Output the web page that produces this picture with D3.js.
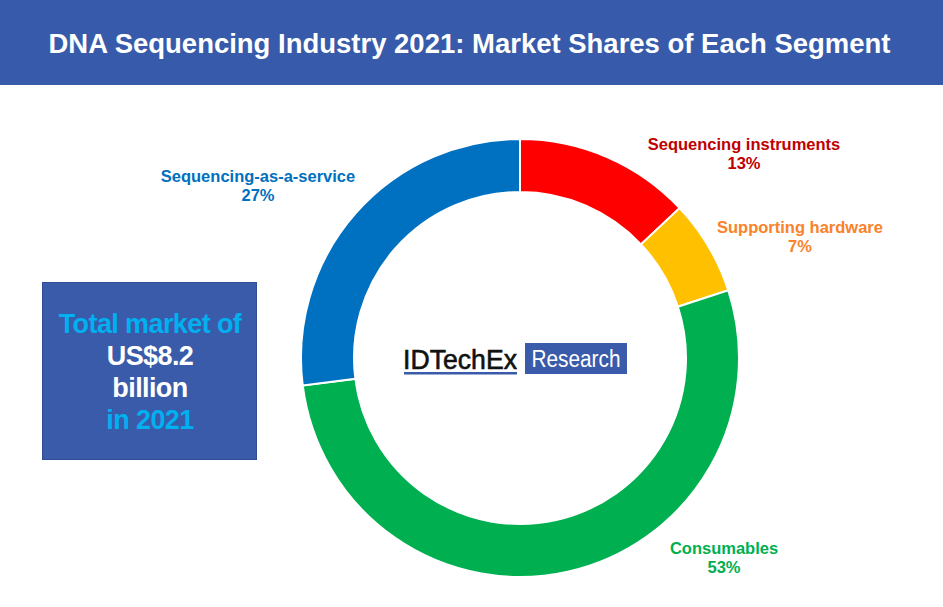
<!DOCTYPE html>
<html>
<head>
<meta charset="utf-8">
<script src="https://cdn.jsdelivr.net/npm/d3@7"></script>
<style>
  html, body { margin: 0; padding: 0; background: #fff; }
  svg { display: block; font-family: "Liberation Sans", Arial, sans-serif; }
</style>
</head>
<body>
<svg id="chart" width="943" height="607"></svg>
<script>
const categories = ["Sequencing instruments", "Supporting hardware", "Consumables", "Sequencing-as-a-service"];
const shares = [13, 7, 53, 27];
const colors = ["#FF0000", "#FFC000", "#00B050", "#0070C0"];
const labelColors = ["#C00000", "#F9822A", "#00B050", "#0070C0"];
const titleText = "DNA Sequencing Industry 2021: Market Shares of Each Segment";
const boxLines = [
  { text: "Total market of", color: "#00B0F0" },
  { text: "US$8.2", color: "#FFFFFF" },
  { text: "billion", color: "#FFFFFF" },
  { text: "in 2021", color: "#00B0F0" }
];

const svg = d3.select("#chart");
const W = 943, H = 607;

// Title bar
svg.append("rect").attr("x", 0).attr("y", 0).attr("width", W).attr("height", 85).attr("fill", "#375BAA");
svg.append("text").attr("x", W / 2 - 2).attr("y", 53).attr("text-anchor", "middle")
  .attr("fill", "#fff").attr("font-weight", "bold").attr("font-size", 27)
  .attr("textLength", 842).attr("lengthAdjust", "spacingAndGlyphs")
  .text(titleText);

// Donut
const cx = 520, cy = 358, rOut = 219, rIn = 166;
const data = categories.map((c, i) => ({ cat: c, value: shares[i], color: colors[i], lc: labelColors[i] }));
const pie = d3.pie().value(d => d.value).sort(null);
const arc = d3.arc().innerRadius(rIn).outerRadius(rOut);
const g = svg.append("g").attr("transform", `translate(${cx},${cy})`);
g.selectAll("path").data(pie(data)).join("path")
  .attr("d", arc).attr("fill", d => d.data.color)
  .attr("stroke", "#fff").attr("stroke-width", 2);

// Labels
const labelPos = [
  { x: 744, y: 150 },
  { x: 800, y: 233 },
  { x: 724, y: 554 },
  { x: 258, y: 182 }
];
data.forEach((d, i) => {
  const t = svg.append("text").attr("text-anchor", "middle").attr("fill", d.lc)
    .attr("font-weight", "bold").attr("font-size", 16.5);
  t.append("tspan").attr("x", labelPos[i].x).attr("y", labelPos[i].y).text(d.cat);
  t.append("tspan").attr("x", labelPos[i].x).attr("y", labelPos[i].y + 18.5).text(d.value + "%");
});

// Info box
svg.append("rect").attr("x", 42.5).attr("y", 282.5).attr("width", 214).attr("height", 177)
  .attr("fill", "#3A5BAA").attr("stroke", "#2F4C94").attr("stroke-width", 1);
boxLines.forEach((l, i) => {
  svg.append("text").attr("x", 150).attr("y", 333 + i * 32).attr("text-anchor", "middle")
    .attr("fill", l.color).attr("font-weight", "bold").attr("font-size", 27)
    .attr("letter-spacing", -0.6)
    .text(l.text);
});

// Logo
svg.append("text").attr("x", 403).attr("y", 369).attr("fill", "#111")
  .attr("font-size", 27).attr("font-weight", "normal")
  .attr("stroke", "#111").attr("stroke-width", 0.6)
  .attr("textLength", 114).attr("lengthAdjust", "spacingAndGlyphs")
  .text("IDTechEx");
svg.append("rect").attr("x", 404).attr("y", 372).attr("width", 113).attr("height", 2.5).attr("fill", "#3A5BAA");
svg.append("rect").attr("x", 525).attr("y", 343).attr("width", 102).attr("height", 31).attr("fill", "#3A5BAA");
svg.append("text").attr("x", 576).attr("y", 367).attr("text-anchor", "middle").attr("fill", "#fff")
  .attr("font-size", 23).attr("textLength", 89).attr("lengthAdjust", "spacingAndGlyphs").text("Research");
</script>
</body>
</html>
